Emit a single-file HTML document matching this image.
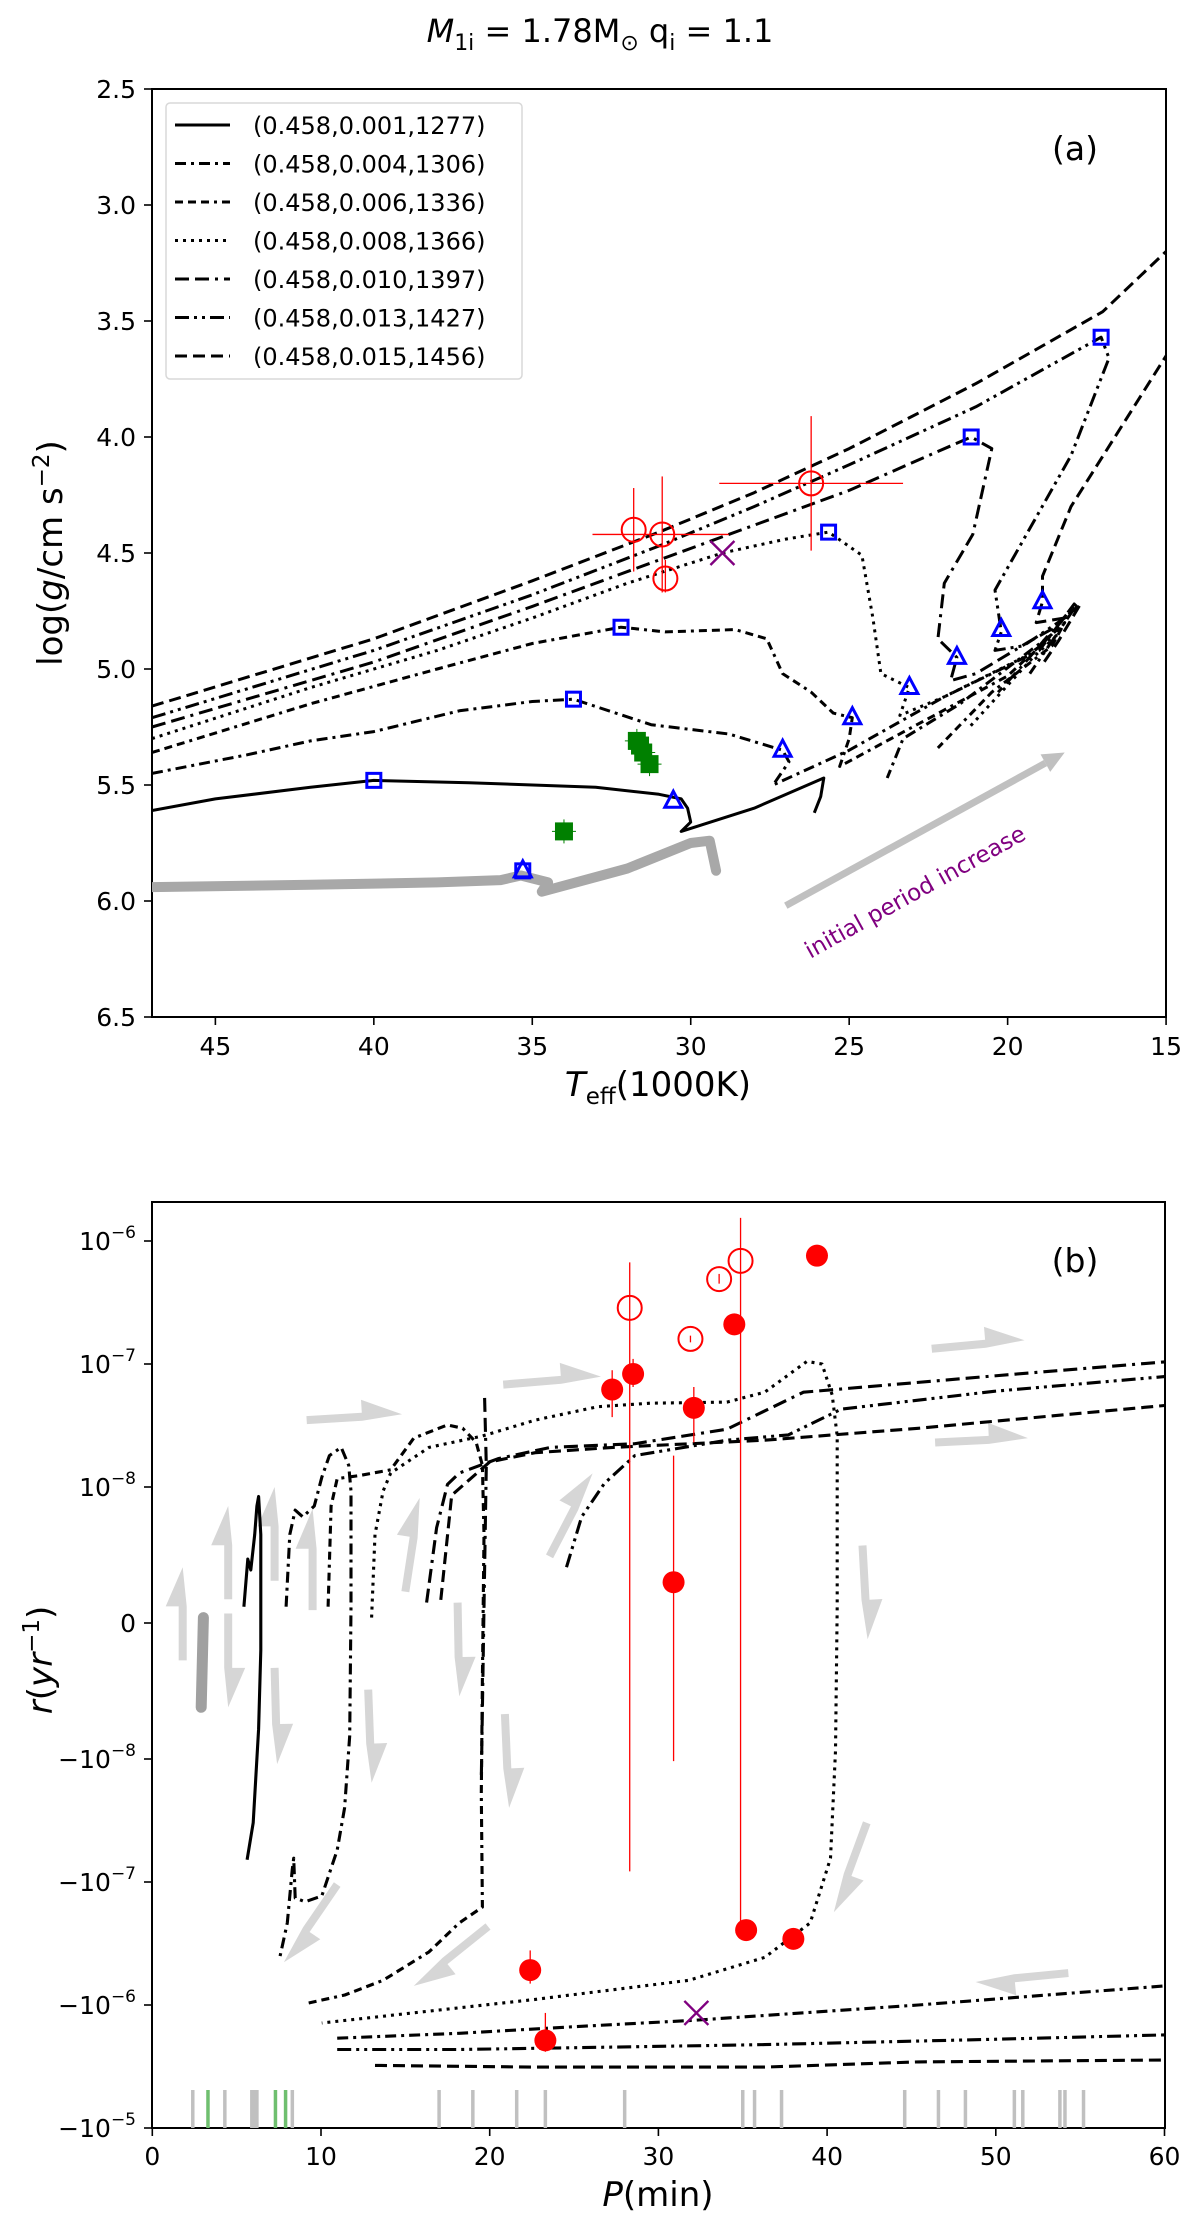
<!DOCTYPE html>
<html><head><meta charset="utf-8"><style>
html,body{margin:0;padding:0;background:#fff;}
svg{display:block;font-family:"DejaVu Sans","Liberation Sans",sans-serif;}
</style></head><body>
<svg id="fig" width="1200" height="2231" viewBox="0 0 1200 2231" xmlns="http://www.w3.org/2000/svg">
<defs>
<clipPath id="clipA"><rect x="152" y="89" width="1014" height="928"/></clipPath>
<clipPath id="clipB"><rect x="152" y="1202" width="1013" height="926"/></clipPath>
</defs>
<text x="600" y="42" font-size="32" text-anchor="middle"><tspan font-style="italic">M</tspan><tspan font-size="22" dy="8">1i</tspan><tspan dy="-8"> = 1.78M</tspan><tspan font-size="22" dy="8">⊙</tspan><tspan dy="-8"> q</tspan><tspan font-size="22" dy="8">i</tspan><tspan dy="-8"> = 1.1</tspan></text>
<g id="panelA"></g>
<g id="panelB"></g>
</svg>
<script>
// ---------- Panel (a) data ----------
const aXTicks=[45,40,35,30,25,20,15];
const aYTicks=[2.5,3.0,3.5,4.0,4.5,5.0,5.5,6.0,6.5];
const legendLabels=["(0.458,0.001,1277)","(0.458,0.004,1306)","(0.458,0.006,1336)","(0.458,0.008,1366)","(0.458,0.010,1397)","(0.458,0.013,1427)","(0.458,0.015,1456)"];
const trackA001T=[47,45,42,40,37,33,31,30.3,30.1,30.0,30.3,28,25.8,25.9,26.1];
const trackA001G=[5.61,5.56,5.51,5.48,5.49,5.51,5.54,5.56,5.6,5.66,5.7,5.6,5.47,5.55,5.62];
const trackA004T=[47,44,42,40,37.3,35,33.7,31.25,28.8,27.1,26.9,27.4,25,22,19,17.9,18.6,21.5,23.3,23.8];
const trackA004G=[5.45,5.37,5.31,5.27,5.18,5.14,5.13,5.24,5.28,5.35,5.4,5.5,5.35,5.12,4.92,4.72,4.85,5.15,5.3,5.47];
const trackA006T=[47,42,38,35,32.2,30.8,28.6,27.6,27.1,26.2,25.5,24.9,25.0,25.3,23,20,18.2,18.6,20.5,22.2];
const trackA006G=[5.36,5.15,5.0,4.89,4.82,4.84,4.83,4.87,5.02,5.1,5.19,5.21,5.3,5.42,5.25,5.03,4.8,4.9,5.1,5.34];
const trackA008T=[47,42,38,35,32,29,27,25.65,24.6,24.25,24.0,23.1,23.4,22,19.5,18.4,19.2,21.2];
const trackA008G=[5.30,5.08,4.92,4.78,4.63,4.5,4.44,4.41,4.51,4.78,5.02,5.08,5.2,5.12,4.95,4.85,4.95,5.25];
const trackA010T=[47,40,35,31,28,25,22.5,21.15,20.5,21.1,22,22.2,21.6,21.8,21.0,19.3,18.5,19.5,20.3];
const trackA010G=[5.25,4.97,4.73,4.53,4.38,4.23,4.08,4.0,4.05,4.42,4.63,4.87,4.95,5.05,5.02,4.88,4.82,4.98,5.1];
const trackA013T=[47,40,35,31,28,25,21,17.05,16.8,18,20.4,20.2,20.4,19.5,18.2,17.8,18.6,19.3];
const trackA013G=[5.21,4.92,4.68,4.47,4.3,4.12,3.87,3.57,3.66,4.08,4.66,4.84,4.92,4.9,4.78,4.72,4.88,5.02];
const trackA015T=[47,40,35,31,28,25,21,17,15,14,14,15,18,18.9,18.9,19.1,18.2,17.7,18.4,18.9];
const trackA015G=[5.16,4.87,4.62,4.41,4.24,4.05,3.77,3.46,3.2,3.0,3.5,3.65,4.3,4.6,4.71,4.8,4.78,4.72,4.88,4.98];
const heTrackT=[47,42,38,36,35.36,34.5,34.7,32,30,29.4,29.2];
const heTrackG=[5.94,5.93,5.92,5.91,5.89,5.92,5.96,5.86,5.75,5.74,5.87];
const sqT=[40,33.7,32.2,25.65,21.15,17.05,35.3];
const sqG=[5.48,5.13,4.82,4.41,4.0,3.57,5.87];
const triT=[30.55,27.1,24.9,23.1,21.6,20.2,18.9,35.3];
const triG=[5.57,5.35,5.21,5.08,4.95,4.83,4.71,5.87];
const obsT=[31.8,30.9,30.8,26.2];
const obsG=[4.40,4.42,4.61,4.2];
const obsTlo=[31.8,33.1,30.8,29.1];
const obsThi=[31.8,28.8,30.8,23.3];
const obsGlo=[4.22,4.17,4.53,3.91];
const obsGhi=[4.58,4.67,4.67,4.49];
const greenT=[31.7,31.6,31.5,31.3,34.0];
const greenG=[5.31,5.33,5.36,5.41,5.70];
const xMarkA=[29.0,4.5];

// ---------- Panel (b) data ----------
const bXTicks=[0,10,20,30,40,50,60];
const bYTickVals=[1e-6,1e-7,1e-8,0,-1e-8,-1e-7,-1e-6,-1e-5];
const bYTickLabels=[["10","−6"],["10","−7"],["10","−8"],["0",""],["−10","−8"],["−10","−7"],["−10","−6"],["−10","−5"]];
const trB001P=[5.43,5.66,5.84,6.07,6.2,6.3,6.43,6.43,6.3,5.98,5.62];
const trB001V=[1.2e-9,4.7e-9,3.9e-9,6.5e-9,8.6e-9,9.3e-9,6.5e-9,-2e-9,-7.8e-9,-3.3e-8,-6.6e-8];
const trB004P=[7.93,8.15,8.47,8.92,9.6,10.05,10.5,11.2,11.64,11.78,11.78,11.7,11.4,10.96,10.05,9.06,8.47,8.38,8.29,8.0,7.56];
const trB004V=[1.2e-9,6.5e-9,8.3e-9,7.8e-9,8.6e-9,1.2e-8,1.8e-8,2.1e-8,1.5e-8,9.7e-9,1.2e-9,-8.3e-9,-2.5e-8,-5.5e-8,-1.3e-7,-1.45e-7,-1.35e-7,-6.4e-8,-8e-8,-2.15e-7,-4.1e-7];
const trB006P=[10.42,10.6,10.96,12.3,14.13,15.5,17.5,18.4,19.2,19.57,19.66,19.57,19.5,19.57,18.2,16.4,13.68,11.41,9.15];
const trB006V=[1.2e-9,8.6e-9,1.17e-8,1.24e-8,1.38e-8,2.5e-8,3.2e-8,3.0e-8,2.3e-8,1.5e-8,6.5e-9,-4.1e-9,-1.9e-8,-1.6e-7,-2.15e-7,-3.7e-7,-6.3e-7,-8.3e-7,-9.7e-7];
const trB008P=[13.0,13.2,13.68,14.13,16.4,19.57,22.7,26.4,29.5,34.06,36.3,38.8,39.7,40.3,40.6,40.6,40.6,40.5,40.2,39.0,36.3,31.8,22.7,10.05];
const trB008V=[4e-10,6.5e-9,9.7e-9,1.3e-8,2.1e-8,2.6e-8,3.5e-8,4.5e-8,4.8e-8,4.9e-8,5.9e-8,1.05e-7,1.0e-7,5.6e-8,2.6e-8,9.7e-9,1.2e-9,-9.4e-9,-6.4e-8,-2.15e-7,-4.1e-7,-6.3e-7,-9e-7,-1.4e-6];
const trB010SpikeP=[19.7,19.8,19.66,19.5];
const trB010SpikeV=[5.3e-8,1.5e-8,1.2e-9,-1.46e-8];
const trB010UpP=[16.26,16.85,17.5,18.2,20.5,23.6,28.6,34.06,38.6,49.9,60];
const trB010UpV=[1.5e-9,7e-9,1.05e-8,1.3e-8,1.7e-8,2.1e-8,2.25e-8,2.95e-8,5.9e-8,8.0e-8,1.04e-7];
const trB013UpP=[24.55,25.45,26.8,28.6,34.06,37.7,40.85,49.9,60];
const trB013UpV=[4.1e-9,7.8e-9,1.07e-8,1.8e-8,2.4e-8,2.65e-8,4.3e-8,6.0e-8,7.9e-8];
const trB015UpP=[17.1,17.75,20.0,22.7,27.3,36.3,45.4,60];
const trB015UpV=[1.7e-9,9.4e-9,1.6e-8,1.9e-8,2.1e-8,2.4e-8,3.0e-8,4.6e-8];
const trB010LoP=[10.96,18.2,25,32.2,45.4,60];
const trB010LoV=[-1.86e-6,-1.7e-6,-1.5e-6,-1.33e-6,-1.0e-6,-7.0e-7];
const trB013LoP=[10.96,18.2,27.3,36.3,49.9,60];
const trB013LoV=[-2.3e-6,-2.3e-6,-2.2e-6,-2.1e-6,-1.9e-6,-1.75e-6];
const trB015LoP=[13.2,22.7,36.3,45.4,60];
const trB015LoV=[-3.1e-6,-3.2e-6,-3.2e-6,-2.9e-6,-2.8e-6];
const heSegP=[3.03,2.9];
const heSegV=[4e-10,-6.2e-9];
const filledP=[27.26,28.5,32.1,34.5,39.4,30.9,35.2,38.0,22.4,23.3];
const filledV=[6.2e-8,8.3e-8,4.4e-8,2.1e-7,7.6e-7,3e-9,-2.46e-7,-2.9e-7,-5.2e-7,-1.94e-6];
const filledLo=[3.7e-8,6.5e-8,2.3e-8,2.1e-7,7.6e-7,-1.04e-8,-2.46e-7,-2.9e-7,-6.7e-7,-2.4e-6];
const filledHi=[8.9e-8,1.1e-7,6.5e-8,2.1e-7,7.6e-7,1.8e-8,-2.46e-7,-2.9e-7,-3.6e-7,-1.16e-6];
const openP=[28.3,31.9,33.6,34.87];
const openV=[2.86e-7,1.6e-7,4.9e-7,6.9e-7];
const openLo=[-8.2e-8,1.5e-7,4.5e-7,-2.46e-7];
const openHi=[6.7e-7,1.7e-7,5.4e-7,1.54e-6];
const xMarkB=[32.25,-1.16e-6];
const rugGreyP=[2.4,4.3,5.9,6.0,6.1,6.2,8.3,17.0,19.0,21.6,23.3,28.0,35.0,35.7,37.3,44.6,46.6,48.2,51.1,51.6,53.8,54.1,55.2];
const rugGreenP=[3.3,7.3,7.9];
const arrowP1=[9.15,20.8,46.2,46.4,54.3,1.8,4.5,7.25,9.5,15.0,23.55,4.5,7.25,12.8,18.1,20.9,42.1,42.35,10.96,19.9];
const arrowV1=[3.5e-8,6.8e-8,1.33e-7,2.3e-8,-5.5e-7,-2.75e-9,1.75e-9,3.1e-9,0.95e-9,2.3e-9,4.9e-9,0.7e-9,-3.3e-9,-4.9e-9,1.5e-9,-6.7e-9,5.7e-9,-3.3e-8,-1.05e-7,-2.3e-7];
const arrowP2=[14.8,26.6,51.7,51.9,48.8,1.8,4.5,7.25,9.5,15.85,26.1,4.5,7.4,13.0,18.2,21.15,42.4,40.4,7.8,15.5];
const arrowV2=[3.9e-8,7.9e-8,1.56e-7,2.5e-8,-6.5e-7,4.1e-9,8.6e-9,1e-8,8.4e-9,9.2e-9,1.29e-8,-6.2e-9,-1.1e-8,-1.56e-8,-5.4e-9,-2.5e-8,-1.2e-9,-1.76e-7,-4.5e-7,-7.0e-7];

// ---------- helpers ----------
const NS="http://www.w3.org/2000/svg";
function mk(parent,tag,attrs){const e=document.createElementNS(NS,tag);for(const k in attrs)e.setAttribute(k,attrs[k]);parent.appendChild(e);return e;}
const xA=T=>152+(47-T)*31.69;
const yA=g=>89+(g-2.5)*232;
const xB=P=>152.3+P*16.87;
function yB(v){const a=Math.abs(v);if(a<=1e-8)return 1623-v/1e-8*136;return 1623-Math.sign(v)*(136+Math.log10(a/1e-8)*123);}
const dashes={"001":"none","004":"11,5,3,5","006":"8,5,8,5,8,5,3,5","008":"3,5","010":"14,6,14,6,3,6","013":"14,5,3,5,3,5","015":"12,6"};
function poly(g,xs,ys,fx,fy,dash,w,color){let d="";for(let i=0;i<xs.length;i++)d+=(i?"L":"M")+fx(xs[i]).toFixed(1)+","+fy(ys[i]).toFixed(1);
 const p=mk(g,"path",{d:d,fill:"none",stroke:color||"#000","stroke-width":w||3,"stroke-linejoin":"round"});if(dash&&dash!=="none")p.setAttribute("stroke-dasharray",dash);return p;}

// ---------- Panel A ----------
const A=document.getElementById("panelA");
mk(A,"rect",{x:152,y:89,width:1014,height:928,fill:"none",stroke:"#000","stroke-width":2});
aXTicks.forEach(t=>{const x=xA(t);mk(A,"line",{x1:x,y1:1017,x2:x,y2:1025,stroke:"#000","stroke-width":1.6});
 const tx=mk(A,"text",{x:x,y:1055,"font-size":25,"text-anchor":"middle"});tx.textContent=t;
 
 });
aYTicks.forEach(t=>{const y=yA(t);mk(A,"line",{x1:144,y1:y,x2:152,y2:y,stroke:"#000","stroke-width":1.6});
 const tx=mk(A,"text",{x:136,y:y+9,"font-size":25,"text-anchor":"end"});tx.textContent=t.toFixed(1);
 
 });
const gA=mk(A,"g",{"clip-path":"url(#clipA)"});
(function(){const x1=xA(27.0),y1=yA(6.02),x2=xA(18.2),y2=yA(5.36);const L=Math.hypot(x2-x1,y2-y1),ux=(x2-x1)/L,uy=(y2-y1)/L,nx=-uy,ny=ux;
 const bx=x2-ux*22,by=y2-uy*22;
 const ar=mk(gA,"line",{x1:x1,y1:y1,x2:bx,y2:by,stroke:"#c0c0c0","stroke-width":7});
 
 mk(gA,"polygon",{points:`${x2},${y2} ${bx+nx*10},${by+ny*10} ${bx-nx*10},${by-ny*10}`,fill:"#c0c0c0"});
 const cx=xA(22.8),cy=yA(5.99);
 const t=mk(gA,"text",{x:cx,y:cy,"font-size":23,fill:"#800080","text-anchor":"middle",transform:`rotate(-29 ${cx} ${cy})`});t.textContent="initial period increase";
 })();
const heA=poly(gA,heTrackT,heTrackG,xA,yA,"none",10,"#a8a8a8");heA.setAttribute("stroke-linecap","round");

const tracksA=[["001",trackA001T,trackA001G],["004",trackA004T,trackA004G],["006",trackA006T,trackA006G],["008",trackA008T,trackA008G],["010",trackA010T,trackA010G],["013",trackA013T,trackA013G],["015",trackA015T,trackA015G]];
tracksA.forEach(tr=>{const p=poly(gA,tr[1],tr[2],xA,yA,dashes[tr[0]],3);
 });
for(let i=0;i<greenT.length;i++){const x=xA(greenT[i]),y=yA(greenG[i]);
 mk(gA,"line",{x1:x-12,y1:y,x2:x+12,y2:y,stroke:"#008000","stroke-width":1});
 mk(gA,"line",{x1:x,y1:y-12,x2:x,y2:y+12,stroke:"#008000","stroke-width":1});
 const r=mk(gA,"rect",{x:x-9,y:y-9,width:18,height:18,fill:"#008000"});
 }
for(let i=0;i<obsT.length;i++){const x=xA(obsT[i]),y=yA(obsG[i]);
 mk(gA,"line",{x1:xA(obsTlo[i]),y1:y,x2:xA(obsThi[i]),y2:y,stroke:"#ff0000","stroke-width":1.3});
 mk(gA,"line",{x1:x,y1:yA(obsGlo[i]),x2:x,y2:yA(obsGhi[i]),stroke:"#ff0000","stroke-width":1.3});
 const c=mk(gA,"circle",{cx:x,cy:y,r:12,fill:"none",stroke:"#ff0000","stroke-width":2});
 }
(function(){const x=xA(xMarkA[0]),y=yA(xMarkA[1]);const xm=mk(gA,"path",{d:`M${x-12},${y-12}L${x+12},${y+12}M${x-12},${y+12}L${x+12},${y-12}`,stroke:"#800080","stroke-width":2.4});
 })();
for(let i=0;i<sqT.length;i++){const x=xA(sqT[i]),y=yA(sqG[i]);const r=mk(gA,"rect",{x:x-7,y:y-7,width:14,height:14,fill:"none",stroke:"#0000ff","stroke-width":3});
 }
for(let i=0;i<triT.length;i++){const x=xA(triT[i]),y=yA(triG[i]);const t=mk(gA,"polygon",{points:`${x},${y-10} ${x+8.5},${y+6} ${x-8.5},${y+6}`,fill:"none",stroke:"#0000ff","stroke-width":3});
 }
(function(){const lg=mk(A,"g",{});
 mk(lg,"rect",{x:166,y:103,width:356,height:276,rx:4,fill:"#fff",stroke:"#d8d8d8","stroke-width":1.5});
 legendLabels.forEach((lb,i)=>{const y=125+i*38.5;const code=tracksA[i][0];
  const l=mk(lg,"line",{x1:175,y1:y,x2:230,y2:y,stroke:"#000","stroke-width":3});if(dashes[code]!=="none")l.setAttribute("stroke-dasharray",dashes[code]);
  const t=mk(lg,"text",{x:253,y:y+9,"font-size":24});t.textContent=lb;
  });})();
(function(){const t=mk(A,"text",{x:1075,y:160,"font-size":33,"text-anchor":"middle"});t.textContent="(a)";
 const yl=mk(A,"text",{x:0,y:0,"font-size":34,"text-anchor":"middle",transform:"translate(62,553) rotate(-90)"});
 yl.innerHTML='log(<tspan font-style="italic">g</tspan>/cm s<tspan font-size="23" dy="-13">−2</tspan><tspan dy="13">)</tspan>';
 
 const xl=mk(A,"text",{x:658,y:1096,"font-size":34,"text-anchor":"middle"});
 xl.innerHTML='<tspan font-style="italic">T</tspan><tspan font-size="23" dy="8">eff</tspan><tspan dy="-8">(1000K)</tspan>';
 })();

// ---------- Panel B ----------
const B=document.getElementById("panelB");
mk(B,"rect",{x:152,y:1202,width:1013,height:926,fill:"none",stroke:"#000","stroke-width":2});
bXTicks.forEach(t=>{const x=xB(t);mk(B,"line",{x1:x,y1:2128,x2:x,y2:2136,stroke:"#000","stroke-width":1.6});
 const tx=mk(B,"text",{x:x,y:2165,"font-size":25,"text-anchor":"middle"});tx.textContent=t;
 });
bYTickVals.forEach((v,i)=>{const y=yB(v);mk(B,"line",{x1:144,y1:y,x2:152,y2:y,stroke:"#000","stroke-width":1.6});
 const tx=mk(B,"text",{x:136,y:y+9,"font-size":25,"text-anchor":"end"});
 const lb=bYTickLabels[i];tx.innerHTML=lb[1]?`${lb[0]}<tspan font-size="17" dy="-12">${lb[1]}</tspan>`:lb[0];
 });
const gB=mk(B,"g",{"clip-path":"url(#clipB)"});
rugGreyP.forEach(p=>{const l=mk(gB,"line",{x1:xB(p),y1:2090,x2:xB(p),y2:2128,stroke:"#c0c0c0","stroke-width":3.5});
 });
rugGreenP.forEach(p=>{const l=mk(gB,"line",{x1:xB(p),y1:2090,x2:xB(p),y2:2128,stroke:"#6fbf6f","stroke-width":3.5});
 });
for(let i=0;i<arrowP1.length;i++){const x1=xB(arrowP1[i]),y1=yB(arrowV1[i]),x2=xB(arrowP2[i]),y2=yB(arrowV2[i]);
 const L=Math.hypot(x2-x1,y2-y1),ux=(x2-x1)/L,uy=(y2-y1)/L,nx=uy,ny=-ux;const h=Math.min(40,L*0.42),w=4,hw=13;
 const bx=x2-ux*h,by=y2-uy*h;
 const pts=[[x1-nx*w,y1-ny*w],[x1+nx*w,y1+ny*w],[bx+nx*w,by+ny*w],[bx+nx*(w+hw),by+ny*(w+hw)],[x2,y2],[bx-nx*w,by-ny*w]];
 const a=mk(gB,"polygon",{points:pts.map(p=>p[0].toFixed(1)+","+p[1].toFixed(1)).join(" "),fill:"#d6d6d6"});
 }
const heB=poly(gB,heSegP,heSegV,xB,yB,"none",11,"#a0a0a0");heB.setAttribute("stroke-linecap","round");

const tracksB=[["001",trB001P,trB001V],["004",trB004P,trB004V],["006",trB006P,trB006V],["008",trB008P,trB008V],["010",trB010SpikeP,trB010SpikeV],["010",trB010UpP,trB010UpV],["013",trB013UpP,trB013UpV],["015",trB015UpP,trB015UpV],["004",trB010LoP,trB010LoV],["013",trB013LoP,trB013LoV],["015",trB015LoP,trB015LoV]];
tracksB.forEach(tr=>{const p=poly(gB,tr[1],tr[2],xB,yB,dashes[tr[0]],3.1);
 });
for(let i=0;i<openP.length;i++){const x=xB(openP[i]);
 mk(gB,"line",{x1:x,y1:yB(openLo[i]),x2:x,y2:yB(openHi[i]),stroke:"#ff0000","stroke-width":1.3});
 const c=mk(gB,"circle",{cx:x,cy:yB(openV[i]),r:12,fill:"none",stroke:"#ff0000","stroke-width":2});
 }
for(let i=0;i<filledP.length;i++){const x=xB(filledP[i]);
 mk(gB,"line",{x1:x,y1:yB(filledLo[i]),x2:x,y2:yB(filledHi[i]),stroke:"#ff0000","stroke-width":1.3});
 const c=mk(gB,"circle",{cx:x,cy:yB(filledV[i]),r:11,fill:"#ff0000"});
 }
(function(){const x=xB(xMarkB[0]),y=yB(xMarkB[1]);const xm=mk(gB,"path",{d:`M${x-12},${y-12}L${x+12},${y+12}M${x-12},${y+12}L${x+12},${y-12}`,stroke:"#800080","stroke-width":2.4});
 })();
(function(){const t=mk(B,"text",{x:1075,y:1272,"font-size":33,"text-anchor":"middle"});t.textContent="(b)";
 const yl=mk(B,"text",{x:0,y:0,"font-size":34,"text-anchor":"middle",transform:"translate(52,1660) rotate(-90)"});
 yl.innerHTML='<tspan font-style="italic">r</tspan>(<tspan font-style="italic">yr</tspan><tspan font-size="23" dy="-13">−1</tspan><tspan dy="13">)</tspan>';
 
 const xl=mk(B,"text",{x:658,y:2206,"font-size":34,"text-anchor":"middle"});
 xl.innerHTML='<tspan font-style="italic">P</tspan>(min)';
 })();
</script>
</body></html>
